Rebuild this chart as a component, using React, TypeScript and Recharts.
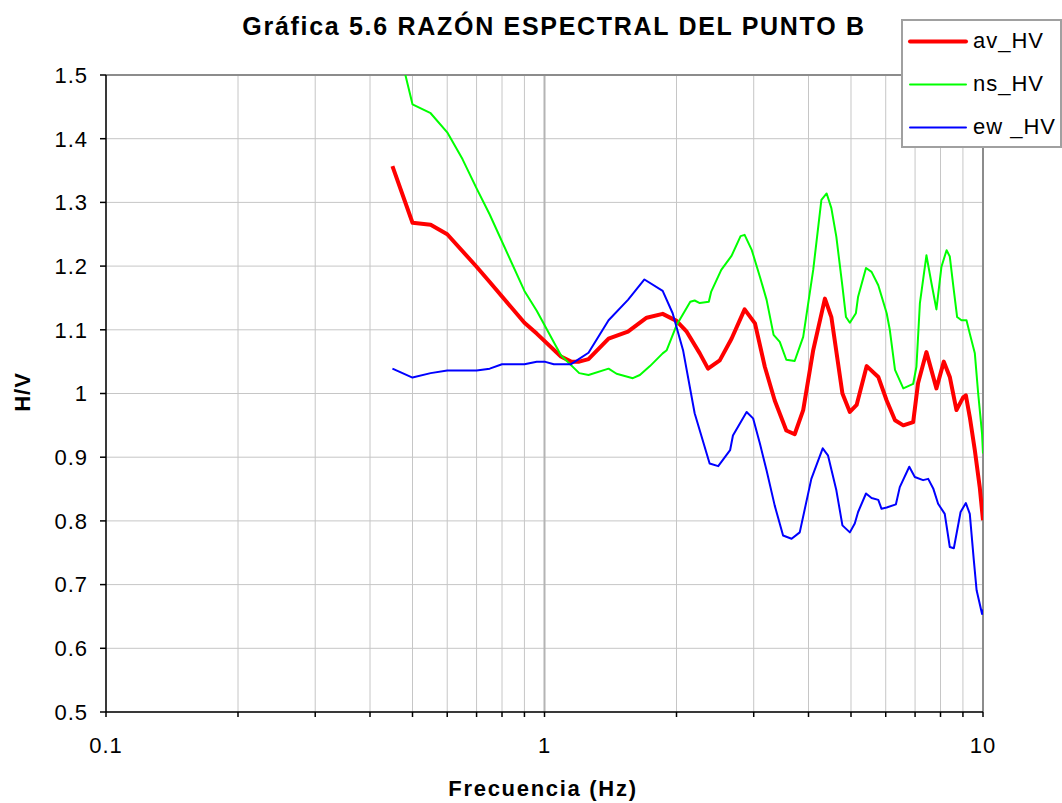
import React from 'react';
import { LineChart, Line, XAxis, YAxis, CartesianGrid, ReferenceLine, Legend } from 'recharts';

// ---- data ----
const avFreq = [0.45,0.50,0.55,0.60,0.70,0.75,0.90,0.96,1.09,1.15,1.20,1.26,1.40,1.55,1.71,1.86,2.00,2.11,2.26,2.36,2.51,2.67,2.86,3.02,3.18,3.35,3.56,3.72,3.89,4.10,4.36,4.51,4.78,4.97,5.15,5.43,5.77,6.03,6.30,6.58,6.93,7.11,7.43,7.83,8.14,8.40,8.70,9.01,9.14,9.33,9.58,9.83,10.0];
const avValues = [1.357,1.268,1.265,1.25,1.199,1.175,1.111,1.094,1.058,1.05,1.05,1.054,1.086,1.097,1.119,1.125,1.114,1.097,1.063,1.039,1.052,1.086,1.132,1.110,1.042,0.989,0.942,0.936,0.974,1.068,1.149,1.120,1.000,0.971,0.982,1.043,1.026,0.989,0.958,0.950,0.955,1.016,1.065,1.008,1.050,1.026,0.974,0.994,0.997,0.963,0.911,0.853,0.801];

const nsFreq = [0.45,0.50,0.55,0.60,0.65,0.70,0.75,0.90,0.96,1.09,1.20,1.26,1.40,1.46,1.59,1.65,1.74,1.86,1.90,2.00,2.15,2.20,2.26,2.37,2.40,2.53,2.67,2.80,2.86,2.97,3.10,3.21,3.33,3.44,3.56,3.72,3.89,4.10,4.28,4.40,4.51,4.63,4.78,4.87,4.97,5.13,5.19,5.41,5.57,5.77,6.03,6.13,6.30,6.58,6.93,7.05,7.18,7.43,7.63,7.83,8.04,8.26,8.40,8.58,8.73,8.93,9.17,9.33,9.58,9.75,9.95,10.0];
const nsValues = [1.584,1.454,1.440,1.410,1.368,1.322,1.281,1.161,1.130,1.060,1.032,1.029,1.039,1.031,1.024,1.029,1.043,1.063,1.068,1.107,1.144,1.146,1.142,1.144,1.160,1.194,1.216,1.247,1.249,1.225,1.183,1.147,1.092,1.081,1.053,1.051,1.089,1.194,1.304,1.314,1.291,1.246,1.168,1.120,1.111,1.126,1.152,1.197,1.191,1.170,1.126,1.100,1.037,1.008,1.015,1.042,1.142,1.217,1.173,1.132,1.199,1.225,1.215,1.162,1.120,1.115,1.115,1.094,1.063,1.000,0.937,0.906];

const ewFreq = [0.45,0.50,0.55,0.60,0.70,0.75,0.80,0.90,0.96,1.00,1.05,1.15,1.26,1.40,1.55,1.69,1.86,1.96,2.07,2.20,2.38,2.49,2.65,2.69,2.89,2.99,3.10,3.21,3.35,3.50,3.66,3.82,4.06,4.31,4.43,4.63,4.78,4.97,5.10,5.19,5.41,5.57,5.77,5.87,6.03,6.33,6.46,6.79,6.99,7.30,7.50,7.70,7.90,8.18,8.40,8.58,8.89,9.14,9.33,9.53,9.67,9.95,10.0];
const ewValues = [1.039,1.025,1.032,1.036,1.036,1.039,1.046,1.046,1.050,1.050,1.046,1.046,1.064,1.115,1.147,1.179,1.161,1.126,1.068,0.969,0.890,0.886,0.911,0.934,0.971,0.961,0.921,0.879,0.824,0.777,0.772,0.782,0.866,0.914,0.903,0.848,0.793,0.782,0.796,0.814,0.843,0.836,0.833,0.819,0.821,0.826,0.853,0.885,0.869,0.864,0.866,0.851,0.827,0.811,0.759,0.757,0.814,0.828,0.811,0.738,0.691,0.654,0.661];

const xTicks = [0.1,0.2,0.3,0.4,0.5,0.6,0.7,0.8,0.9,1,2,3,4,5,6,7,8,9,10];
const xTickLabels = ['0.1','1','10'];
const yTicks = [0.5,0.6,0.7,0.8,0.9,1.0,1.1,1.2,1.3,1.4,1.5];

const title = 'Gráfica 5.6 RAZÓN ESPECTRAL DEL PUNTO B';
const xTitle = 'Frecuencia (Hz)';
const yTitle = 'H/V';

const zip = (fs: number[], vs: number[]) => fs.map((f, i) => ({ f, v: vs[i] }));
const avData = zip(avFreq, avValues);
const nsData = zip(nsFreq, nsValues);
const ewData = zip(ewFreq, ewValues);

const series = [
  { name: 'av_HV', color: '#ff0000', width: 4, data: avData },
  { name: 'ns_HV', color: '#00ff00', width: 2, data: nsData },
  { name: 'ew _HV', color: '#0000ff', width: 2, data: ewData },
];

const FONT = '"Liberation Sans", Arial, Helvetica, sans-serif';

const renderLegend = (props: any) => {
  const payload = props.payload || [];
  return (
    <div
      style={{
        position: 'absolute', left: 0, top: 0, width: 157, height: 125,
        border: '2px solid #a0a0a0', background: '#fff', fontFamily: FONT,
      }}
    >
      {series.map((s, i) => {
        const p = payload.find((x: any) => x.value === s.name);
        const color = p ? p.color : s.color;
        return (
          <div key={s.name} style={{ position: 'absolute', left: 0, top: i * 43, height: 43, width: 157 }}>
            <svg width={70} height={43} style={{ position: 'absolute', left: 0, top: 0 }}>
              <line x1={7} x2={63} y1={20.5} y2={20.5} stroke={color} strokeWidth={s.width} strokeLinecap="round" />
            </svg>
            <div style={{ position: 'absolute', left: 70, top: 8, fontSize: 22, lineHeight: '24px', letterSpacing: 1, color: '#000', whiteSpace: 'pre' }}>
              {s.name}
            </div>
          </div>
        );
      })}
    </div>
  );
};

export default function App() {
  return (
    <div style={{ position: 'absolute', left: 0, top: 0, width: 1062, height: 803, background: '#fff', fontFamily: FONT }}>
      <LineChart width={1062} height={803} margin={{ top: 75, right: 79, bottom: 31, left: 0 }}>
        <CartesianGrid stroke="#c6c6c6" strokeWidth={1} horizontalValues={yTicks} verticalValues={xTicks} />
        <ReferenceLine x={1} stroke="#b4b4b4" strokeWidth={2} />
        <ReferenceLine y={1.5} stroke="#8c8c8c" strokeWidth={2} />
        <ReferenceLine x={10} stroke="#8c8c8c" strokeWidth={2} />
        <XAxis
          dataKey="f"
          type="number"
          scale="log"
          domain={[0.1, 10]}
          ticks={xTicks}
          allowDataOverflow
          height={60}
          interval={0}
          tickSize={5}
          tickMargin={20}
          axisLine={{ stroke: '#000', strokeWidth: 1.5 }}
          tickLine={{ stroke: '#000', strokeWidth: 1.5 }}
          tick={{ fill: '#000', fontSize: 22, fontFamily: FONT, letterSpacing: 1 }}
          tickFormatter={(v: number) => {
            const s = String(v);
            return xTickLabels.includes(s) ? s : '';
          }}
        />
        <YAxis
          type="number"
          domain={[0.5, 1.5]}
          ticks={yTicks}
          allowDataOverflow
          width={106}
          interval={0}
          tickSize={6}
          tickMargin={12}
          axisLine={{ stroke: '#000', strokeWidth: 1.5 }}
          tickLine={{ stroke: '#000', strokeWidth: 1.5 }}
          tick={{ fill: '#000', fontSize: 22, fontFamily: FONT, letterSpacing: 1 }}
          tickFormatter={(v: number) => String(Number(v.toFixed(1)))}
        />
        <Legend
          content={renderLegend}
          wrapperStyle={{ position: 'absolute', left: 901, top: 19, width: 0, height: 0 }}
        />
        {series.map((s) => (
          <Line
            key={s.name}
            data={s.data}
            dataKey="v"
            name={s.name}
            type="linear"
            stroke={s.color}
            strokeWidth={s.width}
            strokeLinejoin="round"
            dot={false}
            activeDot={false}
            isAnimationActive={false}
          />
        ))}
      </LineChart>
      <div style={{ position: 'absolute', left: 554, top: 14, transform: 'translateX(-50%)', whiteSpace: 'nowrap', fontSize: 25, lineHeight: '25px', fontWeight: 700, letterSpacing: 1.7, color: '#000' }}>
        {title}
      </div>
      <div style={{ position: 'absolute', left: 543, top: 778, transform: 'translateX(-50%)', whiteSpace: 'nowrap', fontSize: 22, lineHeight: '22px', fontWeight: 700, letterSpacing: 1.7, color: '#000' }}>
        {xTitle}
      </div>
      <div style={{ position: 'absolute', left: 23, top: 392, transform: 'translate(-50%, -50%) rotate(-90deg)', whiteSpace: 'nowrap', fontSize: 22, lineHeight: '22px', fontWeight: 700, letterSpacing: 1, color: '#000' }}>
        {yTitle}
      </div>
    </div>
  );
}
